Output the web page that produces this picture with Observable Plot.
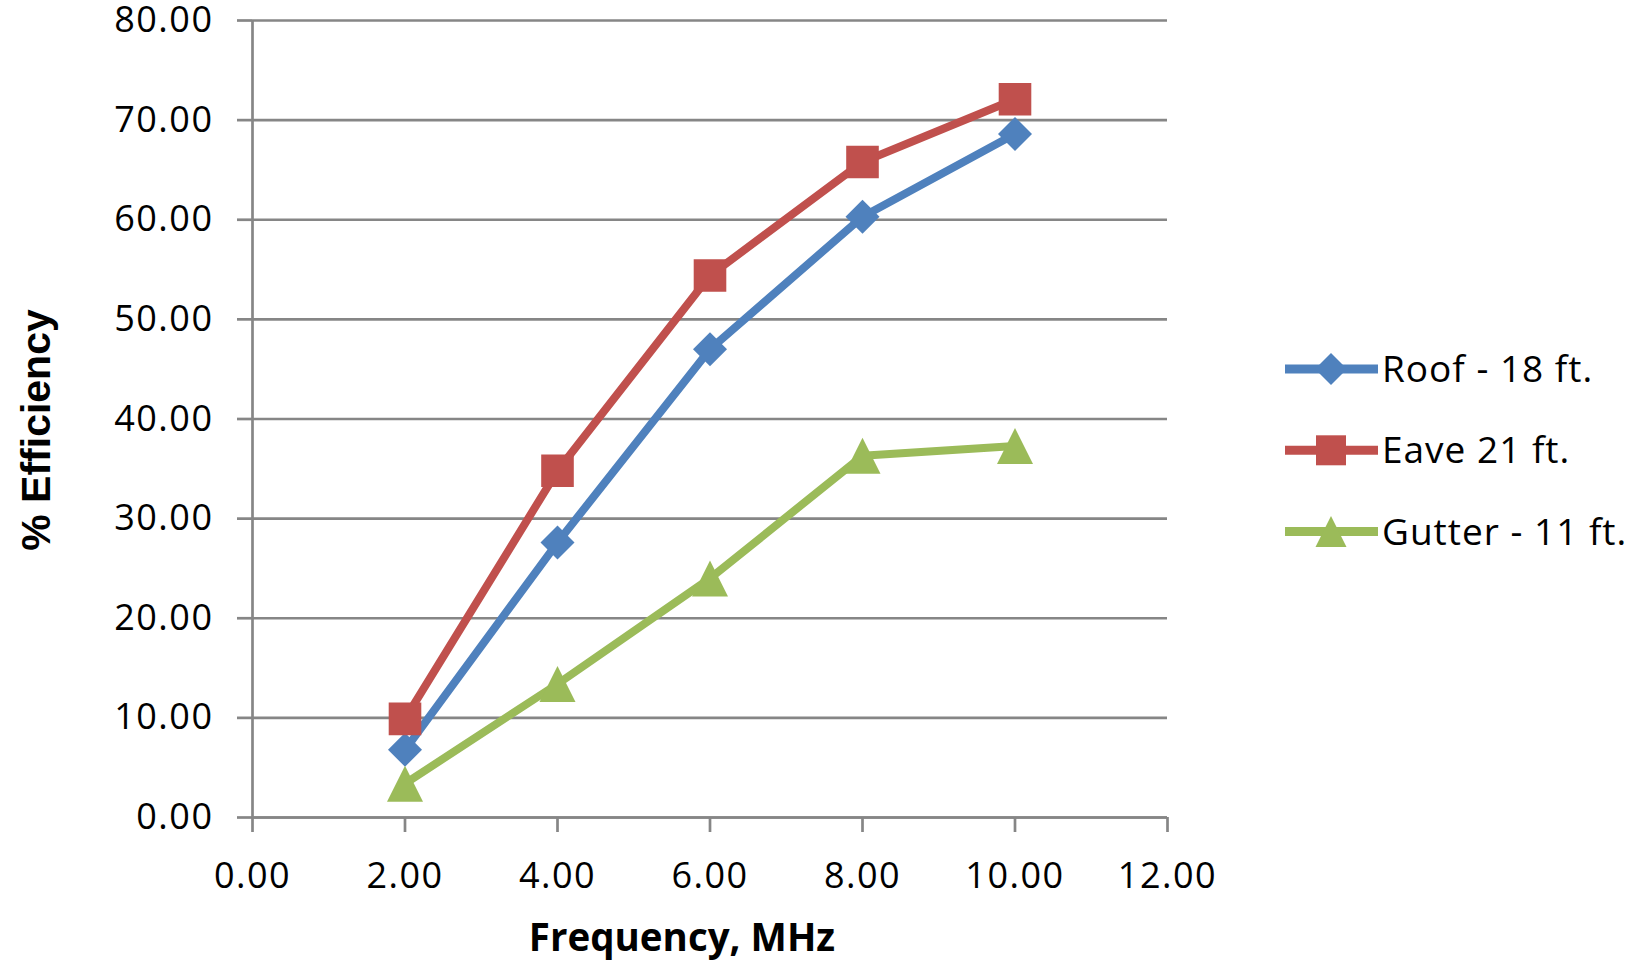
<!DOCTYPE html>
<html>
<head>
<meta charset="utf-8">
<script src="https://cdn.jsdelivr.net/npm/d3@7"></script>
<script src="https://cdn.jsdelivr.net/npm/@observablehq/plot@0.6"></script>
<style>
  html, body { margin: 0; padding: 0; background: #fff; }
  #chart { position: relative; width: 1645px; height: 967px; }
</style>
</head>
<body>
<div id="chart"></div>
<script>
// ---- data ----
const freq = [2, 4, 6, 8, 10];
const roof = [6.8, 27.6, 47.0, 60.3, 68.6];
const eave = [9.9, 34.8, 54.4, 65.8, 72.1];
const gutter = [3.4, 13.4, 24.0, 36.3, 37.3];
const seriesNames = ["Roof - 18 ft.", "Eave 21 ft.", "Gutter - 11 ft."];
const seriesColors = ["#4F81BD", "#C0504D", "#9BBB59"];
const xTicks = [0, 2, 4, 6, 8, 10, 12];
const yTicks = [0, 10, 20, 30, 40, 50, 60, 70, 80];
const xTitle = "Frequency, MHz";
const yTitle = "% Efficiency";

// ---- marker shapes (Excel-like, centered on bounding box) ----
const diamondSym = {draw(ctx, size) { const r = Math.sqrt(size / Math.PI); ctx.moveTo(0, -r); ctx.lineTo(r, 0); ctx.lineTo(0, r); ctx.lineTo(-r, 0); ctx.closePath(); }};
const squareSym = {draw(ctx, size) { const r = Math.sqrt(size / Math.PI); ctx.rect(-r, -r, 2 * r, 2 * r); }};
const triangleSym = {draw(ctx, size) { const r = Math.sqrt(size / Math.PI); ctx.moveTo(0, -r); ctx.lineTo(r, r); ctx.lineTo(-r, r); ctx.closePath(); }};
const symbols = [diamondSym, squareSym, triangleSym];
const symbolR = [17, 16.3, 18];
const legendR = [16, 15, 15.5];

const seriesValues = [roof, eave, gutter];
const tables = seriesValues.map((vals, s) => freq.map((f, i) => ({freq: f, value: vals[i], series: seriesNames[s]})));

const gridColor = "#868686";
const marks = [
  Plot.gridY(yTicks, {stroke: gridColor, strokeOpacity: 1, strokeWidth: 2.7}),
  Plot.ruleX([0], {stroke: gridColor, strokeWidth: 2.7}),
  Plot.ruleY([0], {stroke: gridColor, strokeWidth: 2.7}),
  Plot.axisY(yTicks, {tickSize: 15, tickPadding: 24, tickFormat: d => d.toFixed(2), stroke: gridColor, strokeWidth: 2.7, fill: "#000", fontSize: 36, label: null}),
  Plot.axisX(xTicks, {tickSize: 15, tickPadding: 30, tickFormat: d => d.toFixed(2), stroke: gridColor, strokeWidth: 2.7, fill: "#000", fontSize: 36, label: null})
];
tables.forEach((t, s) => {
  marks.push(Plot.line(t, {x: "freq", y: "value", stroke: seriesColors[s], strokeWidth: 8, strokeLinejoin: "round", strokeLinecap: "round"}));
});
tables.forEach((t, s) => {
  marks.push(Plot.dot(t, {x: "freq", y: "value", fill: seriesColors[s], stroke: "none", symbol: symbols[s], r: symbolR[s]}));
});

const svg = Plot.plot({
  width: 1645,
  height: 967,
  marginLeft: 252,
  marginRight: 478,
  marginTop: 20,
  marginBottom: 150,
  x: {domain: [0, 12]},
  y: {domain: [0, 80]},
  style: {fontFamily: "'Open Sans', sans-serif", background: "#fff", color: "#000", letterSpacing: "1.5px"},
  marks
});
document.getElementById("chart").appendChild(svg);

// ---- axis titles ----
const sel = d3.select(svg);
sel.append("text")
  .attr("x", 682).attr("y", 951)
  .attr("text-anchor", "middle")
  .attr("font-family", "'Open Sans', sans-serif")
  .attr("font-weight", 700)
  .attr("font-size", 38.5)
  .attr("letter-spacing", "0px")
  .attr("fill", "#000")
  .text(xTitle);
sel.append("text")
  .attr("transform", "translate(50,430) rotate(-90)")
  .attr("text-anchor", "middle")
  .attr("font-family", "'Liberation Sans', Arial, sans-serif")
  .attr("font-weight", 700)
  .attr("font-size", 41)
  .attr("letter-spacing", "0px")
  .attr("fill", "#000")
  .text(yTitle);

// ---- legend ----
const legend = sel.append("g").attr("aria-label", "legend");
seriesNames.forEach((name, i) => {
  const cy = 369 + i * 81.3;
  const g = legend.append("g").attr("transform", `translate(0,${cy})`);
  g.append("line").attr("x1", 1285).attr("x2", 1378).attr("y1", 0).attr("y2", 0)
    .attr("stroke", seriesColors[i]).attr("stroke-width", 9);
  g.append("path")
    .attr("transform", "translate(1331,0)")
    .attr("d", d3.symbol(symbols[i], Math.PI * legendR[i] * legendR[i])())
    .attr("fill", seriesColors[i]);
  g.append("text").attr("x", 1382).attr("y", 13)
    .attr("text-anchor", "start")
    .attr("font-family", "'Open Sans', sans-serif")
    .attr("font-size", 37)
    .attr("letter-spacing", "1px")
    .attr("fill", "#000")
    .text(name);
});
</script>
</body>
</html>
